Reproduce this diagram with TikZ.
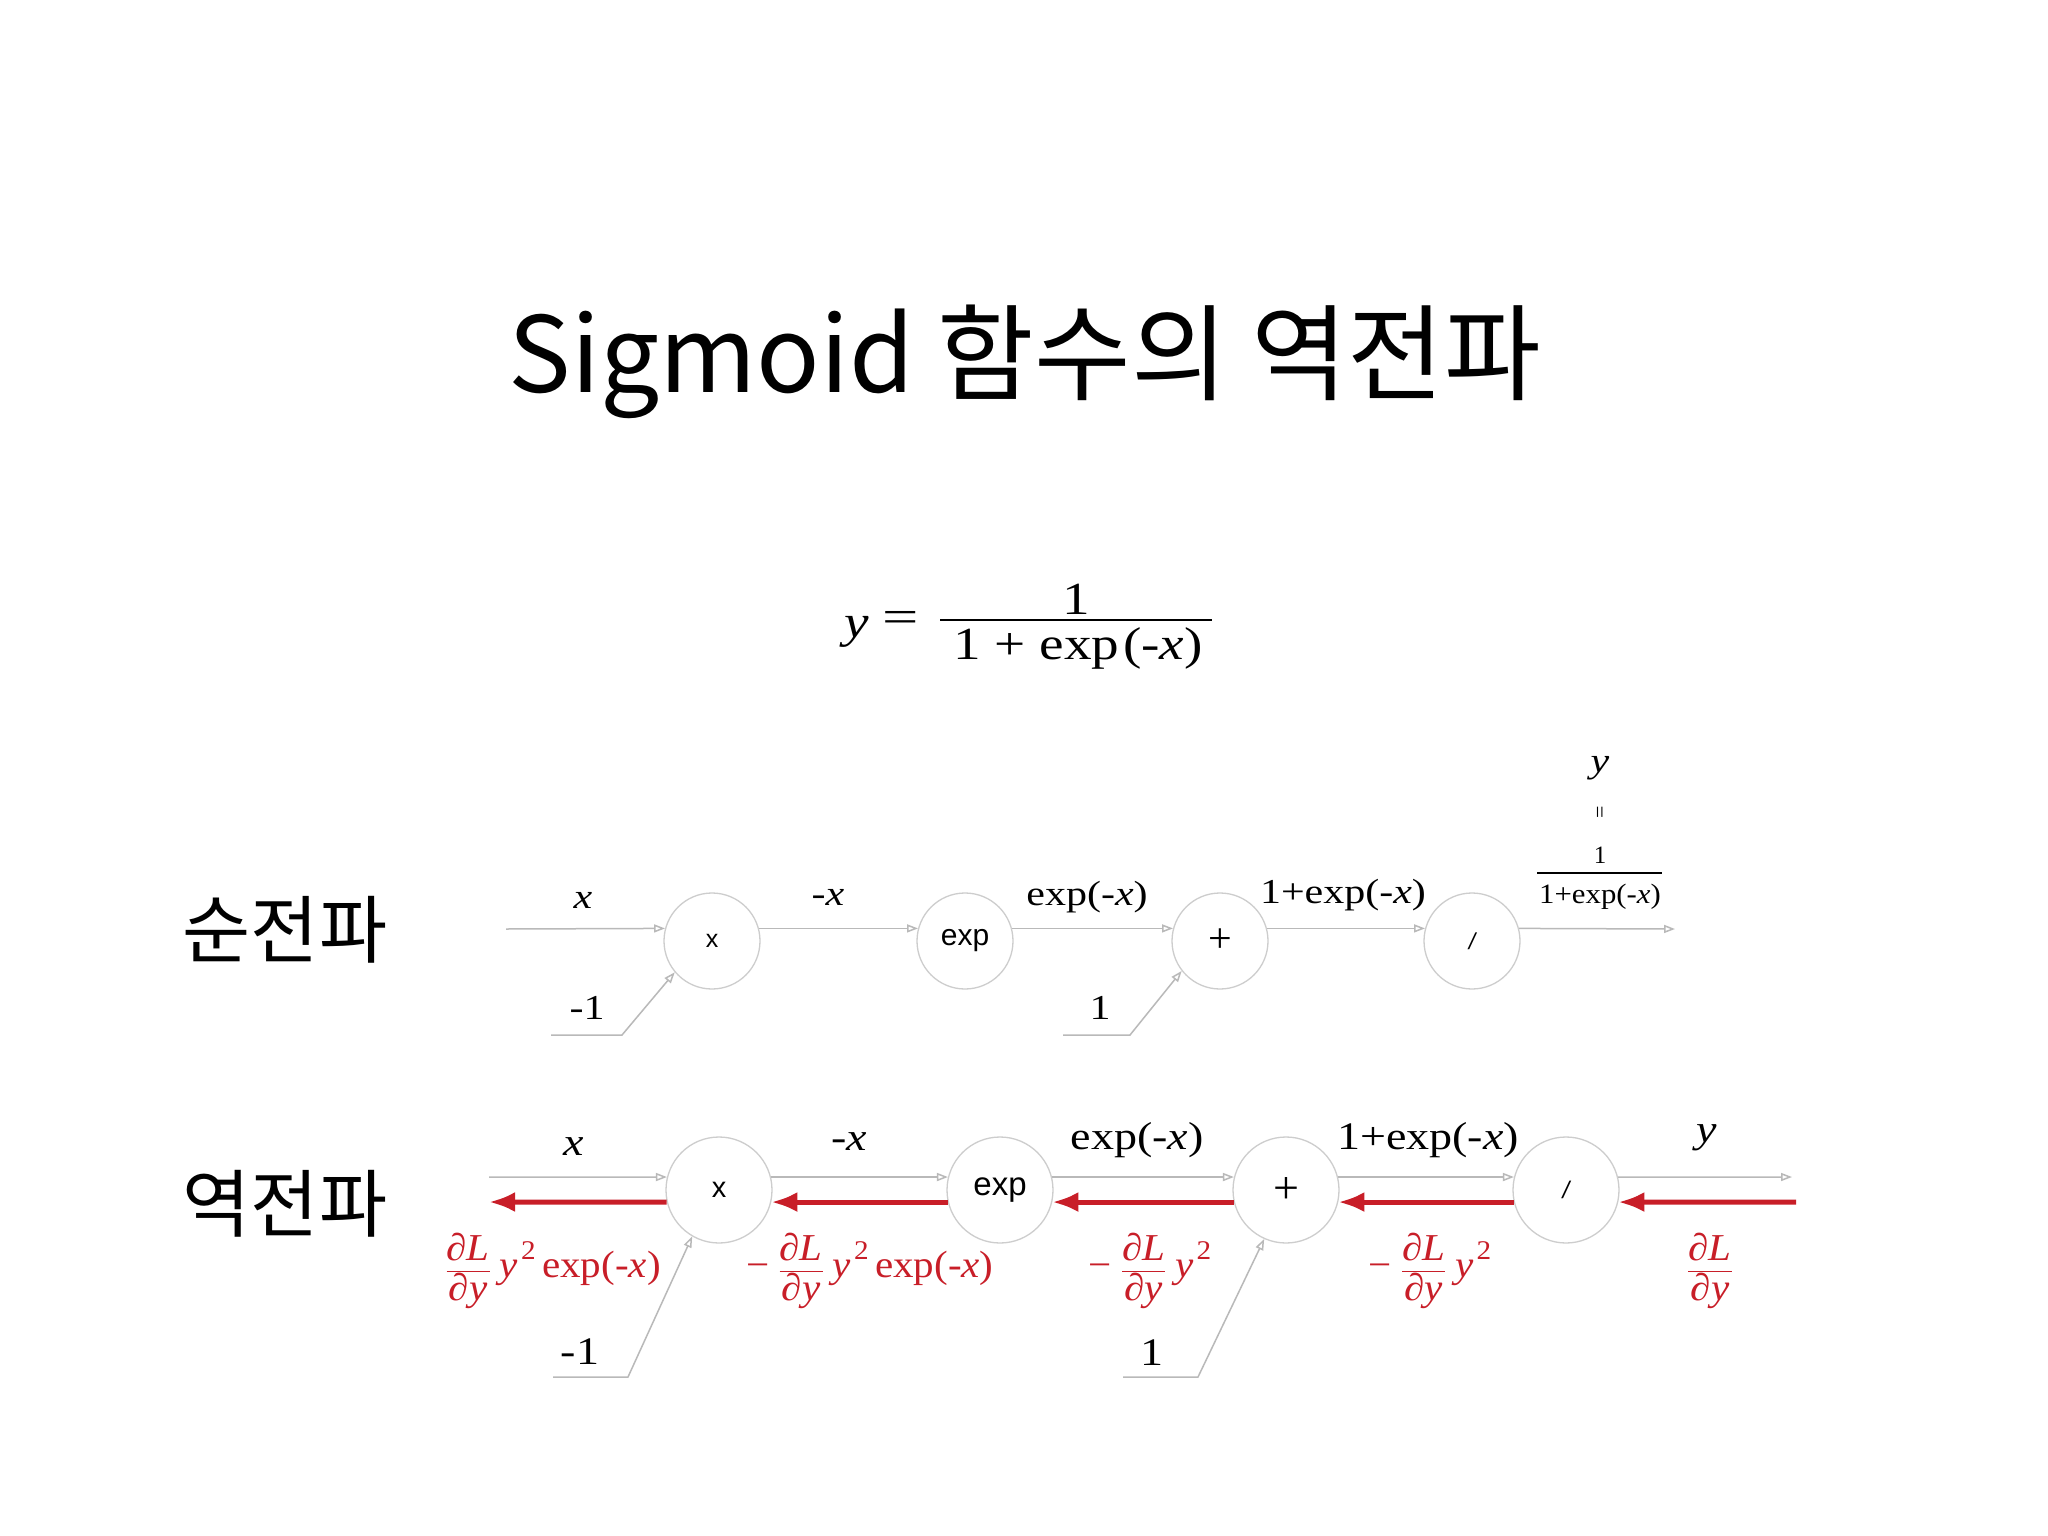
\documentclass[tikz,border=0pt]{standalone}
\usepackage{fontspec}
\usepackage{graphicx}
\setmainfont{Liberation Serif}
\setsansfont{Liberation Sans}
\newfontfamily\krfont{Noto Sans CJK KR}
\usetikzlibrary{arrows.meta,calc}
\definecolor{redc}{RGB}{200,30,40}
\definecolor{lgray}{RGB}{185,185,185}
\definecolor{cgray}{RGB}{205,205,205}
\newcommand{\sx}[1]{\scalebox{1.2}[1]{#1}}
\newcommand{\sxb}[1]{\scalebox{1.18}[1]{#1}}
\newcommand{\sxe}[1]{\scalebox{1.2}[1]{#1}}
\newcommand{\sxr}[1]{\scalebox{1.08}[1]{#1}}
\newcommand{\dLdy}{$\displaystyle\frac{\mbox{\textit{∂L}}}{\mbox{\textit{∂y}}}$}
\newcommand{\ysq}{\textit{y}\hspace{3pt}\raisebox{18pt}{\fontsize{27}{27}\selectfont 2}}
\begin{document}
\begin{tikzpicture}[x=1pt,y=-1pt,
  fwdnode/.style={circle,draw=cgray,line width=1.3pt,minimum size=96pt,inner sep=0pt,font=\sffamily\fontsize{30}{30}\selectfont},
  bwdnode/.style={circle,draw=cgray,line width=1.3pt,minimum size=106pt,inner sep=0pt,font=\sffamily\fontsize{33}{33}\selectfont},
  gline/.style={draw=lgray,line width=1.5pt,-{Triangle[open,length=11pt,width=8pt]}},
  rline/.style={draw=redc,line width=5pt,-{Latex[length=26pt,width=20pt]}},
  flab/.style={font=\fontsize{35}{35}\selectfont,inner sep=0pt},
  blab/.style={font=\fontsize{39}{39}\selectfont,inner sep=0pt},
  rlab/.style={text=redc,font=\fontsize{38}{38}\selectfont,inner sep=0pt},
  eqlab/.style={font=\fontsize{46}{46}\selectfont,inner sep=0pt},
  krlab/.style={font=\krfont\fontsize{74}{74}\selectfont,inner sep=0pt},
]
\fill[white] (0,0) rectangle (2048,1536);
\useasboundingbox (0,0) rectangle (2048,1536);

% title
\node[font=\krfont\fontsize{105}{105}\selectfont,anchor=base,inner sep=0pt] (title) at (1025,392) {Sigmoid 함수의 역전파};

% equation
\node[eqlab] (eqy) at (857,632) {\sxe{\textit{y}}};
\node[eqlab] (eqeq) at (901,622) {\scalebox{1.4}[1]{=}};
\node[eqlab] (eqnum) at (1076,599) {\sxe{1}};
\coordinate (eqbarL) at (940,620);
\coordinate (eqbarR) at (1212,620);
\draw[line width=2.2pt] (eqbarL) -- (eqbarR);
\node[eqlab] (eqden) at (1078,648) {\sxe{1 + exp\hspace{3pt}(-\textit{x})}};

% row labels
\node[krlab] (fwdtitle) at (285,930) {순전파};
\node[krlab] (bwdtitle) at (285,1204) {역전파};

% ---------- forward row ----------
\node[fwdnode,font=\sffamily\fontsize{25}{25}\selectfont] (fx) at (712,941) {x};
\node[fwdnode] (fexp) at (965,941) {exp};
\node[fwdnode,font=\fontsize{42}{42}\selectfont] (fplus) at (1220,941) {+};
\node[fwdnode,font=\sffamily\itshape\fontsize{23}{23}\selectfont] (fdiv) at (1472,941) {/};

\coordinate (fin) at (506,929);
\coordinate (fout) at (1675,929);
\draw[gline] (fin) -- (fx.165);
\draw[gline] (fx.15) -- (fexp.165);
\draw[gline] (fexp.15) -- (fplus.165);
\draw[gline] (fplus.15) -- (fdiv.165);
\draw[gline] (fdiv.15) -- (fout);

\coordinate (fm1s) at (551,1035);
\coordinate (fm1k) at (622,1035);
\draw[gline] (fm1s) -- (fm1k) -- (fx.220);
\coordinate (f1s) at (1063,1035);
\coordinate (f1k) at (1130,1035);
\draw[gline] (f1s) -- (f1k) -- (fplus.218);

\node[flab] (flx) at (583,900) {\sx{\textit{x}}};
\node[flab] (flmx) at (828,897) {\sx{-\textit{x}}};
\node[flab] (flexp) at (1087,897) {\sx{exp(-\textit{x})}};
\node[flab] (flone) at (1343,895) {\sx{1+exp(-\textit{x})}};
\node[flab] (flm1) at (587,1008) {\sx{-1}};
\node[flab] (fl1) at (1100,1008) {\sx{1}};

\node[flab] (foy) at (1600,768) {\sx{\textit{y}}};
\node[inner sep=0pt,font=\fontsize{22}{22}\selectfont] (foeq) at (1602,812) {\rotatebox{90}{=}};
\node[inner sep=0pt,font=\fontsize{25}{25}\selectfont] (fonum) at (1600,855) {1};
\coordinate (fobarL) at (1537,873);
\coordinate (fobarR) at (1662,873);
\draw[line width=1.5pt] (fobarL) -- (fobarR);
\node[inner sep=0pt,font=\fontsize{28}{28}\selectfont] (foden) at (1600,897) {\scalebox{1.1}[1]{1+exp(-\textit{x})}};

% ---------- backward row ----------
\node[bwdnode,font=\sffamily\fontsize{29}{29}\selectfont] (bx) at (719,1190) {x};
\node[bwdnode] (bexp) at (1000,1190) {exp};
\node[bwdnode,font=\fontsize{46}{46}\selectfont] (bplus) at (1286,1190) {+};
\node[bwdnode,font=\sffamily\itshape\fontsize{24}{24}\selectfont] (bdiv) at (1566,1190) {/};

\coordinate (bin) at (489,1177);
\coordinate (bout) at (1792,1177);
\draw[gline] (bin) -- (bx.166);
\draw[gline] (bx.14) -- (bexp.166);
\draw[gline] (bexp.14) -- (bplus.166);
\draw[gline] (bplus.14) -- (bdiv.166);
\draw[gline] (bdiv.14) -- (bout);

\coordinate (rL) at (489,1202);
\coordinate (rR) at (1796,1202);
\draw[rline] (bx.193) -- (rL);
\draw[rline] (bexp.193) -- (bx.347);
\draw[rline] (bplus.193) -- (bexp.347);
\draw[rline] (bdiv.193) -- (bplus.347);
\draw[rline] (rR) -- (bdiv.347);

\coordinate (bm1s) at (553,1377);
\coordinate (bm1k) at (628,1377);
\draw[gline] (bm1s) -- (bm1k) -- (bx.240);
\coordinate (b1s) at (1123,1377);
\coordinate (b1k) at (1198,1377);
\draw[gline] (b1s) -- (b1k) -- (bplus.246);

\node[blab] (blx) at (574,1147) {\sxb{\textit{x}}};
\node[blab] (blmx) at (849,1142) {\sxb{-\textit{x}}};
\node[blab] (blexp) at (1137,1140) {\sxb{exp(-\textit{x})}};
\node[blab] (blone) at (1428,1140) {\sxb{1+exp(-\textit{x})}};
\node[blab] (bly) at (1707,1138) {\sxb{\textit{y}}};
\node[blab] (blm1) at (580,1352) {\sxb{-1}};
\node[blab] (bl1) at (1152,1353) {\sxb{1}};

\node[rlab] (r1) at (553,1271) {\sxr{\dLdy\hspace{8pt}\ysq\hspace{6pt}exp(-\textit{x})}};
\node[rlab] (r2) at (870,1271) {\sxr{−\hspace{8pt}\dLdy\hspace{8pt}\ysq\hspace{6pt}exp(-\textit{x})}};
\node[rlab] (r3) at (1150,1271) {\sxr{−\hspace{8pt}\dLdy\hspace{8pt}\ysq}};
\node[rlab] (r4) at (1430,1271) {\sxr{−\hspace{8pt}\dLdy\hspace{8pt}\ysq}};
\node[rlab] (r5) at (1710,1271) {\sxr{\dLdy}};
\end{tikzpicture}
\end{document}
